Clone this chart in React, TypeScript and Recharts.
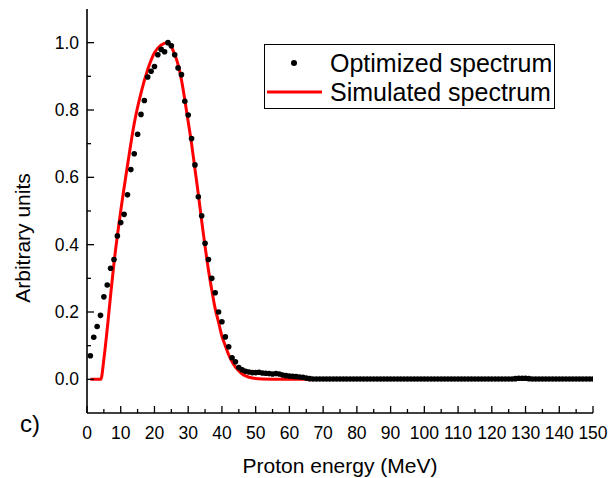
import React from "react";
import {
  ComposedChart,
  XAxis,
  YAxis,
  Scatter,
  Line,
  Legend,
  Label,
} from "recharts";

const FONT = "'Liberation Sans', Arial, sans-serif";

// optimized spectrum (dots), one point per MeV
const optEnergy = [
  1, 2, 3, 4, 5, 6, 7, 8, 9, 10, 11, 12, 13, 14, 15, 16, 17, 18, 19, 20,
  21, 22, 23, 24, 25, 26, 27, 28, 29, 30, 31, 32, 33, 34, 35, 36, 37, 38, 39, 40,
  41, 42, 43, 44, 45, 46, 47, 48, 49, 50, 51, 52, 53, 54, 55, 56, 57, 58, 59, 60,
  61, 62, 63, 64, 65, 66, 67, 68, 69, 70, 71, 72, 73, 74, 75, 76, 77, 78, 79, 80,
  81, 82, 83, 84, 85, 86, 87, 88, 89, 90, 91, 92, 93, 94, 95, 96, 97, 98, 99, 100,
  101, 102, 103, 104, 105, 106, 107, 108, 109, 110, 111, 112, 113, 114, 115, 116, 117, 118, 119, 120,
  121, 122, 123, 124, 125, 126, 127, 128, 129, 130, 131, 132, 133, 134, 135, 136, 137, 138, 139, 140,
  141, 142, 143, 144, 145, 146, 147, 148, 149, 150,
];
const optValue = [
  0.07, 0.125, 0.157, 0.19, 0.245, 0.28, 0.33, 0.356, 0.426, 0.466,
  0.49, 0.548, 0.623, 0.67, 0.728, 0.787, 0.828, 0.898, 0.915, 0.929,
  0.964, 0.98, 0.973, 1.0, 0.991, 0.964, 0.925, 0.905, 0.826, 0.785,
  0.715, 0.637, 0.542, 0.486, 0.404, 0.356, 0.3, 0.257, 0.2, 0.171,
  0.126, 0.097, 0.064, 0.052, 0.035, 0.028, 0.024, 0.022, 0.02, 0.02,
  0.021, 0.019, 0.018, 0.017, 0.016, 0.017, 0.016, 0.013, 0.011, 0.01,
  0.009, 0.008, 0.007, 0.006, 0.004, 0.002, 0.001, 0.001, 0.001, 0.001,
  0.001, 0.001, 0.001, 0.001, 0.001, 0.001, 0.001, 0.001, 0.001, 0.001,
  0.001, 0.001, 0.001, 0.001, 0.001, 0.001, 0.001, 0.001, 0.001, 0.001,
  0.001, 0.001, 0.001, 0.001, 0.001, 0.001, 0.001, 0.001, 0.001, 0.001,
  0.001, 0.001, 0.001, 0.001, 0.001, 0.001, 0.001, 0.001, 0.001, 0.001,
  0.001, 0.001, 0.001, 0.001, 0.001, 0.001, 0.001, 0.001, 0.001, 0.001,
  0.001, 0.001, 0.001, 0.001, 0.001, 0.001, 0.002, 0.003, 0.003, 0.003,
  0.002, 0.001, 0.001, 0.001, 0.001, 0.001, 0.001, 0.001, 0.001, 0.001,
  0.001, 0.001, 0.001, 0.001, 0.001, 0.001, 0.001, 0.001, 0.001, 0.001,
];

// simulated spectrum (red line)
const simEnergy = [
  1, 4.1, 5, 6, 7, 8, 10, 12, 14, 16, 18, 20, 22, 23.7, 25, 26, 27, 28, 29, 30,
  31, 32, 33, 34, 35, 36, 37, 38, 39, 40, 41, 42, 43, 44, 45, 46, 47, 49, 52, 58, 150,
];
const simValue = [
  0, 0, 0.06, 0.15, 0.25, 0.345, 0.5, 0.635, 0.76, 0.85, 0.92, 0.97, 0.993, 1.0, 0.988, 0.965, 0.935, 0.89, 0.83, 0.765,
  0.7, 0.625, 0.55, 0.47, 0.395, 0.325, 0.265, 0.21, 0.17, 0.128, 0.1, 0.073, 0.052, 0.036, 0.025, 0.016, 0.01, 0.004, 0.001, 0, 0,
];

const xTicks = [0, 5, 10, 15, 20, 25, 30, 35, 40, 45, 50, 55, 60, 65, 70, 75, 80, 85, 90, 95, 100, 105, 110, 115, 120, 125, 130, 135, 140, 145, 150];
const yTicks = [0, 0.1, 0.2, 0.3, 0.4, 0.5, 0.6, 0.7, 0.8, 0.9, 1.0];

const optData = optEnergy.map((e, i) => ({ e, v: optValue[i] }));
const simData = simEnergy.map((e, i) => ({ e, v: simValue[i] }));

const isMajorX = (v: number) => Math.round(v) % 10 === 0;
const isMajorY = (v: number) => Math.round(v * 10) % 2 === 0;

const BottomTick = (props: any) => {
  const { x, y, payload } = props;
  const major = isMajorX(payload.value);
  return (
    <g>
      <line x1={x} x2={x} y1={y} y2={y - (major ? 7 : 4)} stroke="#000" strokeWidth={1.3} />
      {major && (
        <text x={x} y={y + 26} textAnchor="middle" fontSize={17.5} fontFamily={FONT} fill="#000">
          {payload.value}
        </text>
      )}
    </g>
  );
};

const TopTick = (props: any) => {
  const { x, y, payload } = props;
  const major = isMajorX(payload.value);
  return <line x1={x} x2={x} y1={y} y2={y + (major ? 7 : 4)} stroke="#000" strokeWidth={1.3} />;
};

const LeftTick = (props: any) => {
  const { x, y, payload } = props;
  const major = isMajorY(payload.value);
  return (
    <g>
      <line x1={x} x2={x + (major ? 7 : 4)} y1={y} y2={y} stroke="#000" strokeWidth={1.3} />
      {major && (
        <text x={x - 8} y={y + 6} textAnchor="end" fontSize={17.5} fontFamily={FONT} fill="#000">
          {payload.value.toFixed(1)}
        </text>
      )}
    </g>
  );
};

const RightTick = (props: any) => {
  const { x, y, payload } = props;
  const major = isMajorY(payload.value);
  return <line x1={x} x2={x - (major ? 7 : 4)} y1={y} y2={y} stroke="#000" strokeWidth={1.3} />;
};

const LegendBox = () => (
  <svg width={291} height={65} style={{ display: "block" }}>
    <rect x={0.5} y={0.5} width={290} height={64} fill="#fff" stroke="#000" strokeWidth={1} />
    <circle cx={30} cy={19} r={3} fill="#000" />
    <text x={66} y={28} fontSize={25} fontFamily={FONT} fill="#000">
      Optimized spectrum
    </text>
    <line x1={3} x2={58} y1={48} y2={48} stroke="#ff0000" strokeWidth={3} />
    <text x={66} y={57} fontSize={25} fontFamily={FONT} fill="#000">
      Simulated spectrum
    </text>
  </svg>
);

const XTitle = (props: any) => {
  const vb = props.viewBox || { x: 87, y: 413, width: 506, height: 65 };
  return (
    <g>
      <text x={vb.x + vb.width / 2} y={vb.y + 60} textAnchor="middle" fontSize={21} fontFamily={FONT} fill="#000">
        Proton energy (MeV)
      </text>
      <text x={20} y={432} fontSize={24} fontFamily={FONT} fill="#000">
        c)
      </text>
    </g>
  );
};

const YTitle = () => (
  <text
    x={30}
    y={238}
    transform="rotate(-90, 30, 238)"
    textAnchor="middle"
    fontSize={21}
    fontFamily={FONT}
    fill="#000"
  >
    Arbitrary units
  </text>
);

const axisLine = { stroke: "#000", strokeWidth: 1.6 };

export default function App() {
  return (
    <div style={{ position: "absolute", left: 0, top: 0, background: "#fff" }}>
      <ComposedChart width={609} height={478} margin={{ top: 9, right: 16, left: 0, bottom: 0 }}>
        <XAxis
          dataKey="e"
          type="number"
          domain={[0, 150]}
          ticks={xTicks}
          interval={0}
          allowDataOverflow
          height={65}
          tickSize={0}
          tickMargin={0}
          tickLine={false}
          axisLine={axisLine}
          tick={<BottomTick />}
        >
          <Label content={<XTitle />} />
        </XAxis>
        <XAxis
          xAxisId="top"
          orientation="top"
          type="number"
          domain={[0, 150]}
          ticks={xTicks}
          interval={0}
          allowDataOverflow
          height={0}
          tickSize={0}
          tickMargin={0}
          tickLine={false}
          axisLine={axisLine}
          tick={<TopTick />}
        />
        <YAxis
          type="number"
          domain={[-0.1, 1.1]}
          ticks={yTicks}
          interval={0}
          allowDataOverflow
          width={87}
          tickSize={0}
          tickMargin={0}
          tickLine={false}
          axisLine={axisLine}
          tick={<LeftTick />}
        >
          <Label content={<YTitle />} />
        </YAxis>
        <YAxis
          yAxisId="right"
          orientation="right"
          type="number"
          domain={[-0.1, 1.1]}
          ticks={yTicks}
          interval={0}
          allowDataOverflow
          width={0}
          tickSize={0}
          tickMargin={0}
          tickLine={false}
          axisLine={axisLine}
          tick={<RightTick />}
        />
        <Scatter
          data={optData}
          dataKey="v"
          isAnimationActive={false}
          shape={(p: any) => <circle cx={p.cx} cy={p.cy} r={2.8} fill="#000" />}
        />
        <Line
          data={simData}
          dataKey="v"
          type="monotone"
          stroke="#ff0000"
          strokeWidth={3}
          dot={false}
          activeDot={false}
          isAnimationActive={false}
        />
        <Legend
          layout="vertical"
          align="center"
          verticalAlign="middle"
          content={<LegendBox />}
          wrapperStyle={{ position: "absolute", left: 264, top: 44, width: 291, height: 65 }}
        />
      </ComposedChart>
    </div>
  );
}
